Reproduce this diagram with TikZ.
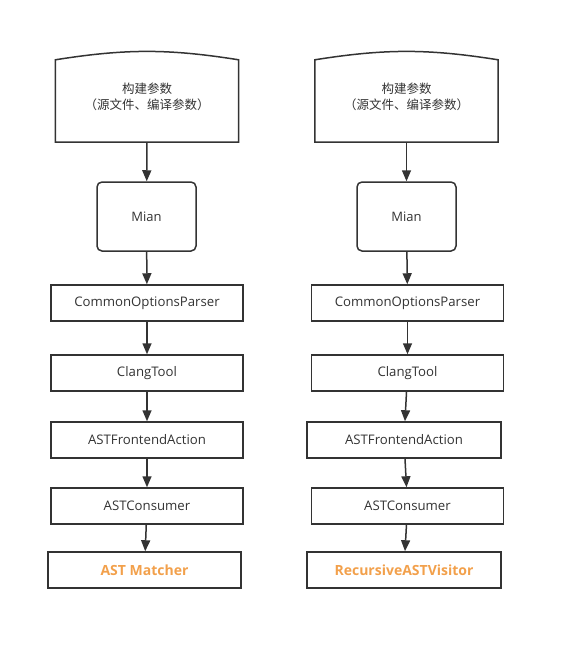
\documentclass[tikz,border=0pt]{standalone}
\usepackage{fontspec}
\setmainfont{Open Sans}
\newfontfamily\cjk{Noto Sans CJK SC}
\usetikzlibrary{shapes.geometric, arrows.meta, positioning}
\definecolor{linegray}{RGB}{51,51,51}
\definecolor{hiorange}{RGB}{242,160,75}
\tikzstyle{params} = [rectangle, minimum width=183pt, minimum height=82pt, text centered, align=center, font=\cjk\fontsize{12.5pt}{16pt}\selectfont, text=linegray]
\tikzstyle{mainbox} = [rectangle, rounded corners=5pt, minimum width=99pt, minimum height=69pt, text centered, draw=linegray, line width=1.5pt, font=\fontsize{13pt}{16pt}\selectfont, text=linegray]
\tikzstyle{process} = [rectangle, minimum width=192pt, minimum height=36pt, text centered, draw=linegray, line width=1.5pt, font=\fontsize{13.2pt}{16pt}\selectfont, text=linegray]
\tikzstyle{result} = [process, font=\bfseries\fontsize{14pt}{16pt}\selectfont, text=hiorange]
\tikzstyle{outline} = [draw=linegray, line width=1.5pt]
\tikzstyle{arrow} = [draw=linegray, line width=1.5pt, -{Triangle[width=9pt,length=11pt]}]

\begin{document}
\begin{tikzpicture}[x=1pt, y=1pt]
\useasboundingbox (0,0) rectangle (565,-651);

% Nodes (AST Matcher)
\node (param1) [params] at (147,-97) {构建参数\\（源文件、编译参数）};
\node (mian1) [mainbox] at (146.5,-216.5) {Mian};
\node (parser1) [process] at (147,-303) {CommonOptionsParser};
\node (tool1) [process] at (147,-373) {ClangTool};
\node (action1) [process] at (147,-440) {ASTFrontendAction};
\node (consumer1) [process] at (147,-506) {ASTConsumer};
\node (matcher) [result, minimum width=193pt] at (144.5,-570) {AST Matcher};

% Nodes (RecursiveASTVisitor)
\node (param2) [params] at (406.5,-97) {构建参数\\（源文件、编译参数）};
\node (mian2) [mainbox] at (406.5,-216.5) {Mian};
\node (parser2) [process] at (407.5,-303) {CommonOptionsParser};
\node (tool2) [process] at (407.5,-373) {ClangTool};
\node (action2) [process, minimum width=194pt] at (404,-440) {ASTFrontendAction};
\node (consumer2) [process] at (407.5,-506) {ASTConsumer};
\node (visitor) [result, minimum width=194pt] at (404,-570) {RecursiveASTVisitor};

% Curved tops
\draw [outline] ([yshift=-4pt]param1.north west) to[bend left=9] ([yshift=-4pt]param1.north east) -- ([yshift=-4pt]param1.south east) -- ([yshift=-4pt]param1.south west) -- cycle;
\draw [outline] ([yshift=-4pt]param2.north west) to[bend left=9] ([yshift=-4pt]param2.north east) -- ([yshift=-4pt]param2.south east) -- ([yshift=-4pt]param2.south west) -- cycle;

% Arrows
\draw [arrow] ([yshift=-4pt]param1.south) -- (mian1);
\draw [arrow] (mian1) -- (parser1);
\draw [arrow] (parser1) -- (tool1);
\draw [arrow] (tool1) -- (action1);
\draw [arrow] (action1) -- (consumer1);
\draw [arrow] (consumer1) -- (matcher);

\draw [arrow] ([yshift=-4pt]param2.south) -- (mian2);
\draw [arrow] (mian2) -- (parser2);
\draw [arrow] (parser2) -- (tool2);
\draw [arrow] (tool2) -- (action2);
\draw [arrow] (action2) -- (consumer2);
\draw [arrow] (consumer2) -- (visitor);

\end{tikzpicture}
\end{document}
